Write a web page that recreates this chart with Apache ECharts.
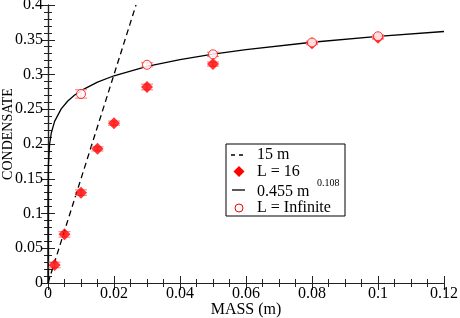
<!DOCTYPE html>
<html>
<head>
<meta charset="utf-8">
<script src="https://cdn.jsdelivr.net/npm/echarts@6/dist/echarts.min.js"></script>
<style>html,body{margin:0;padding:0;background:#fff;}#c{width:460px;height:318px;}</style>
</head>
<body>
<div id="c"></div>
<script>
// L = 16 (filled diamonds)
var massL16 = [0.002, 0.005, 0.01, 0.015, 0.02, 0.03, 0.05, 0.08, 0.1];
var condL16 = [0.026, 0.070, 0.130, 0.193, 0.230, 0.282, 0.315, 0.345, 0.353];
var errL16  = [0.004, 0.004, 0.004, 0.003, 0.003, 0.004, 0.003, 0.002, 0.002];
// L = Infinite (open circles)
var massInf = [0.01, 0.03, 0.05, 0.08, 0.1];
var condInf = [0.272, 0.314, 0.329, 0.346, 0.355];
var errInf  = [0.006, 0.003, 0.003, 0.002, 0.002];
// 15 m line
var lineX = [0, 0.02667];
var lineY = [0, 0.4];
// 0.455 m^0.108 fit curve (sampled)
var fitX = [0, 1e-8, 1e-6, 1e-5, 1e-4, 5e-4, 0.001, 0.002, 0.004, 0.006, 0.008, 0.01, 0.015, 0.02, 0.03, 0.04, 0.05, 0.06, 0.08, 0.1, 0.12];
var fitY = [0, 0.0622, 0.1023, 0.1312, 0.1683, 0.2002, 0.2158, 0.2326, 0.2506, 0.2619, 0.2701, 0.2767, 0.2891, 0.2982, 0.3116, 0.3214, 0.3292, 0.3358, 0.3464, 0.3548, 0.3619];
var xTicks = [0, 0.02, 0.04, 0.06, 0.08, 0.1, 0.12];
var yTicks = [0, 0.05, 0.1, 0.15, 0.2, 0.25, 0.3, 0.35, 0.4];

function zip(a, b) { return a.map(function (v, i) { return [v, b[i]]; }); }
function errData(xs, ys, es) { return xs.map(function (v, i) { return [v, ys[i] - es[i], ys[i] + es[i]]; }); }

var FONT = 'Liberation Serif';
var errColor = '#ff8a8a';
function errRender(params, api) {
  var x = api.value(0);
  var lo = api.coord([x, api.value(1)]);
  var hi = api.coord([x, api.value(2)]);
  var w = 6;
  var st = { stroke: errColor, lineWidth: 1.2 };
  return {
    type: 'group',
    children: [
      { type: 'line', shape: { x1: lo[0], y1: lo[1], x2: hi[0], y2: hi[1] }, style: st },
      { type: 'line', shape: { x1: lo[0] - w, y1: lo[1], x2: lo[0] + w, y2: lo[1] }, style: st },
      { type: 'line', shape: { x1: hi[0] - w, y1: hi[1], x2: hi[0] + w, y2: hi[1] }, style: st }
    ]
  };
}
function fmt(v) { return String(parseFloat(v.toFixed(3))); }

var axisCommon = {
  min: 0,
  axisLine: { show: true, lineStyle: { color: '#222', width: 1.2 } },
  axisTick: { show: true, inside: true, length: 7, lineStyle: { color: '#222' } },
  minorTick: { show: true, length: 4, lineStyle: { color: '#222' } },
  splitLine: { show: false },
  minorSplitLine: { show: false }
};

var chart = echarts.init(document.getElementById('c'));
chart.setOption({
  animation: false,
  grid: { left: 48, right: 16, top: 5, bottom: 35, containLabel: false, outerBoundsMode: 'none' },
  xAxis: [
    Object.assign({}, axisCommon, {
      type: 'value', max: xTicks[xTicks.length - 1], interval: 0.02, position: 'bottom',
      minorTick: Object.assign({}, axisCommon.minorTick, { splitNumber: 4 }),
      axisLabel: { formatter: fmt, color: '#000', fontFamily: FONT, fontSize: 16, margin: 3 },
      name: 'MASS (m)', nameLocation: 'middle', nameGap: 19, nameMoveOverlap: false,
      nameTextStyle: { color: '#000', fontFamily: FONT, fontSize: 16, verticalAlign: 'top', padding: 0 }
    }),
    Object.assign({}, axisCommon, {
      type: 'value', max: xTicks[xTicks.length - 1], interval: 0.02, position: 'top',
      minorTick: Object.assign({}, axisCommon.minorTick, { splitNumber: 4 }),
      axisLabel: { show: false }
    })
  ],
  yAxis: [
    Object.assign({}, axisCommon, {
      type: 'value', max: yTicks[yTicks.length - 1], interval: 0.05, position: 'left',
      minorTick: Object.assign({}, axisCommon.minorTick, { splitNumber: 5 }),
      axisLabel: { formatter: fmt, color: '#000', fontFamily: FONT, fontSize: 16, margin: 5 },
      name: 'CONDENSATE', nameLocation: 'middle', nameGap: 33, nameRotate: 90, nameMoveOverlap: false,
      nameTextStyle: { color: '#000', fontFamily: FONT, fontSize: 14, padding: [0, 0, 0, 20] }
    }),
    Object.assign({}, axisCommon, {
      type: 'value', max: yTicks[yTicks.length - 1], interval: 0.05, position: 'right',
      minorTick: Object.assign({}, axisCommon.minorTick, { splitNumber: 5 }),
      axisLabel: { show: false }
    })
  ],
  series: [
    { type: 'line', data: zip(lineX, lineY), showSymbol: false, symbol: 'none', clip: true,
      lineStyle: { color: '#000', width: 1.3, type: [6, 4] }, z: 2 },
    { type: 'line', data: zip(fitX, fitY), showSymbol: false, symbol: 'none', clip: true,
      lineStyle: { color: '#000', width: 1.3 }, z: 2 },
    { type: 'custom', data: errData(massL16, condL16, errL16), renderItem: errRender, z: 3, clip: false },
    { type: 'scatter', data: zip(massL16, condL16), symbol: 'diamond', symbolSize: [12, 12],
      itemStyle: { color: '#ff0000' }, z: 4 },
    { type: 'custom', data: errData(massInf, condInf, errInf), renderItem: errRender, z: 5, clip: false },
    { type: 'scatter', data: zip(massInf, condInf), symbol: 'circle', symbolSize: 9,
      itemStyle: { color: '#fff', borderColor: '#ff0000', borderWidth: 1 }, z: 6 }
  ],
  graphic: [
    { type: 'rect', shape: { x: 226, y: 144, width: 119, height: 72 },
      style: { fill: '#fff', stroke: '#000', lineWidth: 1 }, z: 10 },
    { type: 'line', shape: { x1: 231, y1: 155, x2: 245, y2: 155 },
      style: { stroke: '#000', lineWidth: 1.3, lineDash: [4, 4] }, z: 11 },
    { type: 'text', x: 257, y: 155, style: { text: '15 m', font: '16px ' + FONT, fill: '#000', verticalAlign: 'middle' }, z: 11 },
    { type: 'polygon', shape: { points: [[239, 166], [244.5, 171.5], [239, 177], [233.5, 171.5]] },
      style: { fill: '#ff0000' }, z: 11 },
    { type: 'text', x: 257, y: 172, style: { text: 'L = 16', font: '16px ' + FONT, fill: '#000', verticalAlign: 'middle' }, z: 11 },
    { type: 'line', shape: { x1: 232, y1: 190, x2: 245, y2: 190 },
      style: { stroke: '#000', lineWidth: 1.3 }, z: 11 },
    { type: 'text', x: 257, y: 192, style: { text: '0.455 m', font: '16px ' + FONT, fill: '#000', verticalAlign: 'middle' }, z: 11 },
    { type: 'text', x: 317, y: 183, style: { text: '0.108', font: '10px ' + FONT, fill: '#000', verticalAlign: 'middle' }, z: 11 },
    { type: 'circle', shape: { cx: 239, cy: 208, r: 4 },
      style: { fill: '#fff', stroke: '#ff0000', lineWidth: 1 }, z: 11 },
    { type: 'text', x: 257, y: 208, style: { text: 'L = Infinite', font: '16px ' + FONT, fill: '#000', verticalAlign: 'middle' }, z: 11 }
  ]
});
</script>
</body>
</html>
